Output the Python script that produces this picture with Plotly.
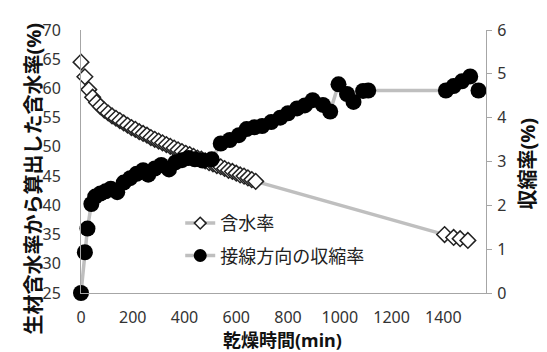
import plotly.graph_objects as go

# 含水率 (left axis)
mc_time = [0, 15, 30, 45, 60, 75, 90, 105, 120, 135, 150, 165, 180, 195, 210, 225,
           240, 255, 270, 285, 300, 315, 330, 345, 360, 375, 390, 405, 420, 435, 450,
           465, 480, 495, 510, 525, 540, 555, 570, 585, 600, 615, 630, 645, 660, 675,
           1405, 1440, 1465, 1495]
mc_value = [64.5, 62.0, 59.8, 58.5, 57.6, 56.9, 56.3, 55.8, 55.3, 54.9, 54.5, 54.1, 53.7,
            53.3, 53.0, 52.6, 52.3, 52.0, 51.6, 51.3, 51.0, 50.7, 50.4, 50.1, 49.8, 49.5,
            49.2, 48.9, 48.7, 48.4, 48.1, 47.9, 47.6, 47.3, 47.1, 46.8, 46.6, 46.3, 46.0,
            45.8, 45.5, 45.2, 45.0, 44.7, 44.4, 44.1,
            35.0, 34.5, 34.3, 34.0]

# 接線方向の収縮率 (right axis)
sh_time = [0, 15, 25, 40, 55, 75, 95, 115, 140, 165, 190, 215, 240, 260, 285, 310, 340,
           365, 390, 415, 440, 470, 505, 540, 575, 610, 640, 670, 700, 735, 770, 800, 835,
           865, 895, 935, 963, 995, 1028, 1053, 1090, 1110,
           1410, 1440, 1472, 1504, 1536]
sh_value = [0.00, 0.93, 1.47, 2.03, 2.20, 2.27, 2.32, 2.38, 2.30, 2.52, 2.62, 2.72, 2.80,
            2.70, 2.84, 2.92, 2.82, 2.98, 3.03, 3.08, 3.05, 3.02, 3.05, 3.41, 3.49, 3.60,
            3.74, 3.78, 3.81, 3.90, 4.00, 4.10, 4.21, 4.28, 4.40, 4.29, 4.14, 4.76, 4.54,
            4.36, 4.61, 4.62,
            4.62, 4.72, 4.83, 4.94, 4.62]

x_ticks = [0, 200, 400, 600, 800, 1000, 1200, 1400]
y_ticks = [25, 30, 35, 40, 45, 50, 55, 60, 65, 70]
y2_ticks = [0, 1, 2, 3, 4, 5, 6]

FONT = "Noto Sans, Noto Sans CJK JP, sans-serif"
AXIS_COLOR = "#A6A6A6"
LINE_COLOR = "#BFBFBF"

fig = go.Figure()
fig.add_trace(go.Scatter(
    x=mc_time, y=mc_value, name="含水率", mode="lines+markers",
    line=dict(color=LINE_COLOR, width=3.5),
    marker=dict(symbol="diamond", size=12, color="white",
                line=dict(color="#222222", width=1.5)),
    cliponaxis=False, showlegend=False,
))
fig.add_trace(go.Scatter(
    x=sh_time, y=sh_value, name="接線方向の収縮率", mode="lines+markers",
    line=dict(color=LINE_COLOR, width=3.5),
    marker=dict(symbol="circle", size=16, color="black"),
    yaxis="y2", cliponaxis=False, showlegend=False,
))
# legend entries
fig.add_trace(go.Scatter(
    x=[None], y=[None], name="含水率", mode="lines+markers",
    line=dict(color=LINE_COLOR, width=3.5),
    marker=dict(symbol="diamond", size=9, color="white",
                line=dict(color="#222222", width=1.5)),
    legendgroup="a",
))
fig.add_trace(go.Scatter(
    x=[None], y=[None], name="接線方向の収縮率", mode="lines+markers",
    line=dict(color=LINE_COLOR, width=3.5),
    marker=dict(symbol="circle", size=13, color="black"),
    legendgroup="b",
))

# the page body has an 8px margin, so the figure is offset by 8px
fig.update_layout(
    width=539, height=344,
    margin=dict(l=72.7, r=61, t=10.3, b=59.3),
    paper_bgcolor="white", plot_bgcolor="white",
    font=dict(family=FONT, size=16, color="#333333"),
    showlegend=True,
    legend=dict(x=0.245, y=0.335, xanchor="left", yanchor="top",
                bgcolor="rgba(255,255,255,0)", font=dict(size=18, color="#222222"),
                traceorder="grouped", tracegroupgap=6),
    xaxis=dict(range=[0, 1565], tickvals=x_ticks, showgrid=False, zeroline=False,
               showline=True, linecolor=AXIS_COLOR, linewidth=1, ticks="",
               ticklabelstandoff=10, ticklabeloverflow="allow"),
    yaxis=dict(range=[25, 70], tickvals=y_ticks, showgrid=False, zeroline=False,
               showline=True, linecolor=AXIS_COLOR, linewidth=1, ticks="",
               ticklabelstandoff=16, ticklabeloverflow="allow"),
    yaxis2=dict(range=[0, 6], tickvals=y2_ticks, overlaying="y", side="right",
                showgrid=False, zeroline=False, showline=True, linecolor=AXIS_COLOR,
                linewidth=1, ticks="outside", ticklen=5, tickcolor=AXIS_COLOR,
                ticklabelstandoff=2, ticklabeloverflow="allow"),
    annotations=[
        dict(text="<b>乾燥時間(min)</b>", xref="paper", yref="paper", x=0.4967, y=-0.177,
             xanchor="center", yanchor="middle", showarrow=False,
             font=dict(size=18, color="#111111")),
        dict(text="<b>生材含水率から算出した含水率(%)</b>", xref="paper", yref="paper",
             x=-0.118, y=0.436, xanchor="center", yanchor="middle", textangle=-90,
             showarrow=False, font=dict(size=20, color="#111111")),
        dict(text="<b>収縮率(%)</b>", xref="paper", yref="paper",
             x=1.103, y=0.491, xanchor="center", yanchor="middle", textangle=-90,
             showarrow=False, font=dict(size=20, color="#111111")),
    ],
)

fig.write_html("out.html")
